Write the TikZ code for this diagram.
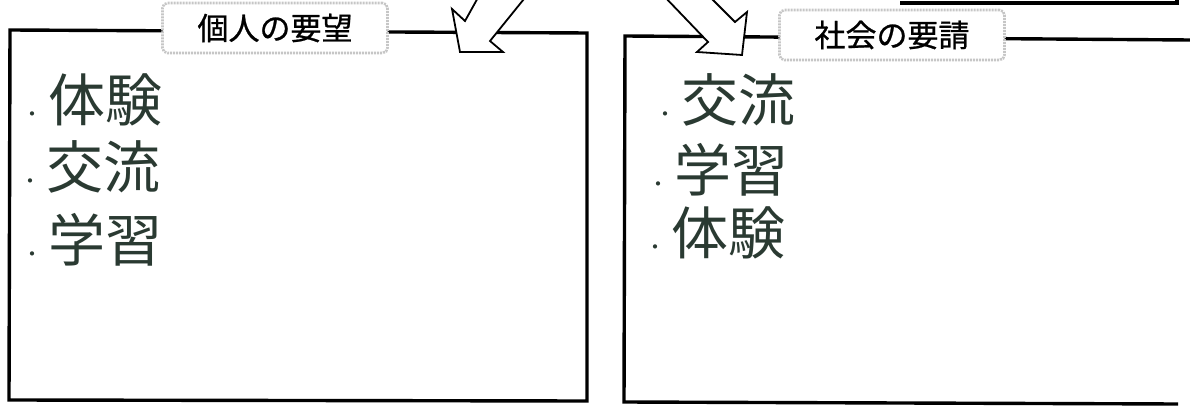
\documentclass[tikz,border=0pt]{standalone}
\usepackage{fontspec}
\newfontfamily\jp{Noto Sans CJK JP}
\newfontfamily\jptag[FakeBold=0.8]{Noto Sans CJK JP}
\definecolor{ink}{RGB}{42,58,50}
\newcommand{\dotmark}{{\fontsize{20}{20}\selectfont ・}\hspace{6pt}}
\begin{document}
\begin{tikzpicture}[x=1pt,y=-1pt,
				frame/.style={line width=3.4pt,line join=miter},
				tag/.style={draw=gray!45,line width=2.6pt,dash pattern=on 2pt off 1pt,rounded corners=5pt,fill=white,
					minimum width=225pt,minimum height=50pt,font=\jptag\fontsize{31}{31}\selectfont},
				item/.style={anchor=west,inner sep=0pt,text=ink,font=\jp\fontsize{57}{57}\selectfont},
				bigarrow/.style={draw,line width=1.8pt,fill=white,line join=miter}]
\useasboundingbox (0,0) rectangle (1190,411);
\clip (0,0) rectangle (1190,411);
% left box
\coordinate (ltl) at (10,30);
\coordinate (ltr) at (587,33);
\coordinate (lbr) at (587,401);
\coordinate (lbl) at (9,400);
\draw[frame] (ltl) -- (ltr) -- (lbr) -- (lbl) -- cycle;
% right box
\coordinate (rtr) at (1190,40);
\coordinate (rtl) at (625,36);
\coordinate (rbl) at (624,402);
\coordinate (rbr) at (1178,404);
\draw[frame] (rtr) -- (rtl) -- (rbl) -- (rbr);
% box above, cut off
\draw[frame] (900,3) -- (1177,3) -- (1177,-6);
% arrows
\draw[bigarrow] (480,-6) -- (465,21) -- (452,9) -- (460,52) -- (503,52) -- (490,41) -- (528,-6);
\draw[bigarrow] (662,-6) -- (708,42) -- (697,52) -- (742,55) -- (747,12) -- (735,22) -- (707,-6);
% labels
\node[tag] (want) at (275,28) {個人の要望};
\node[tag] (need) at (892,35) {社会の要請};
% entries
\node[item] (want1) at (22,100) {\dotmark 体験};
\node[item] (want2) at (20,167) {\dotmark 交流};
\node[item] (want3) at (22,240) {\dotmark 学習};
\node[item] (need1) at (655,100) {\dotmark 交流};
\node[item] (need2) at (648,170) {\dotmark 学習};
\node[item] (need3) at (645,233) {\dotmark 体験};
\end{tikzpicture}
\end{document}
